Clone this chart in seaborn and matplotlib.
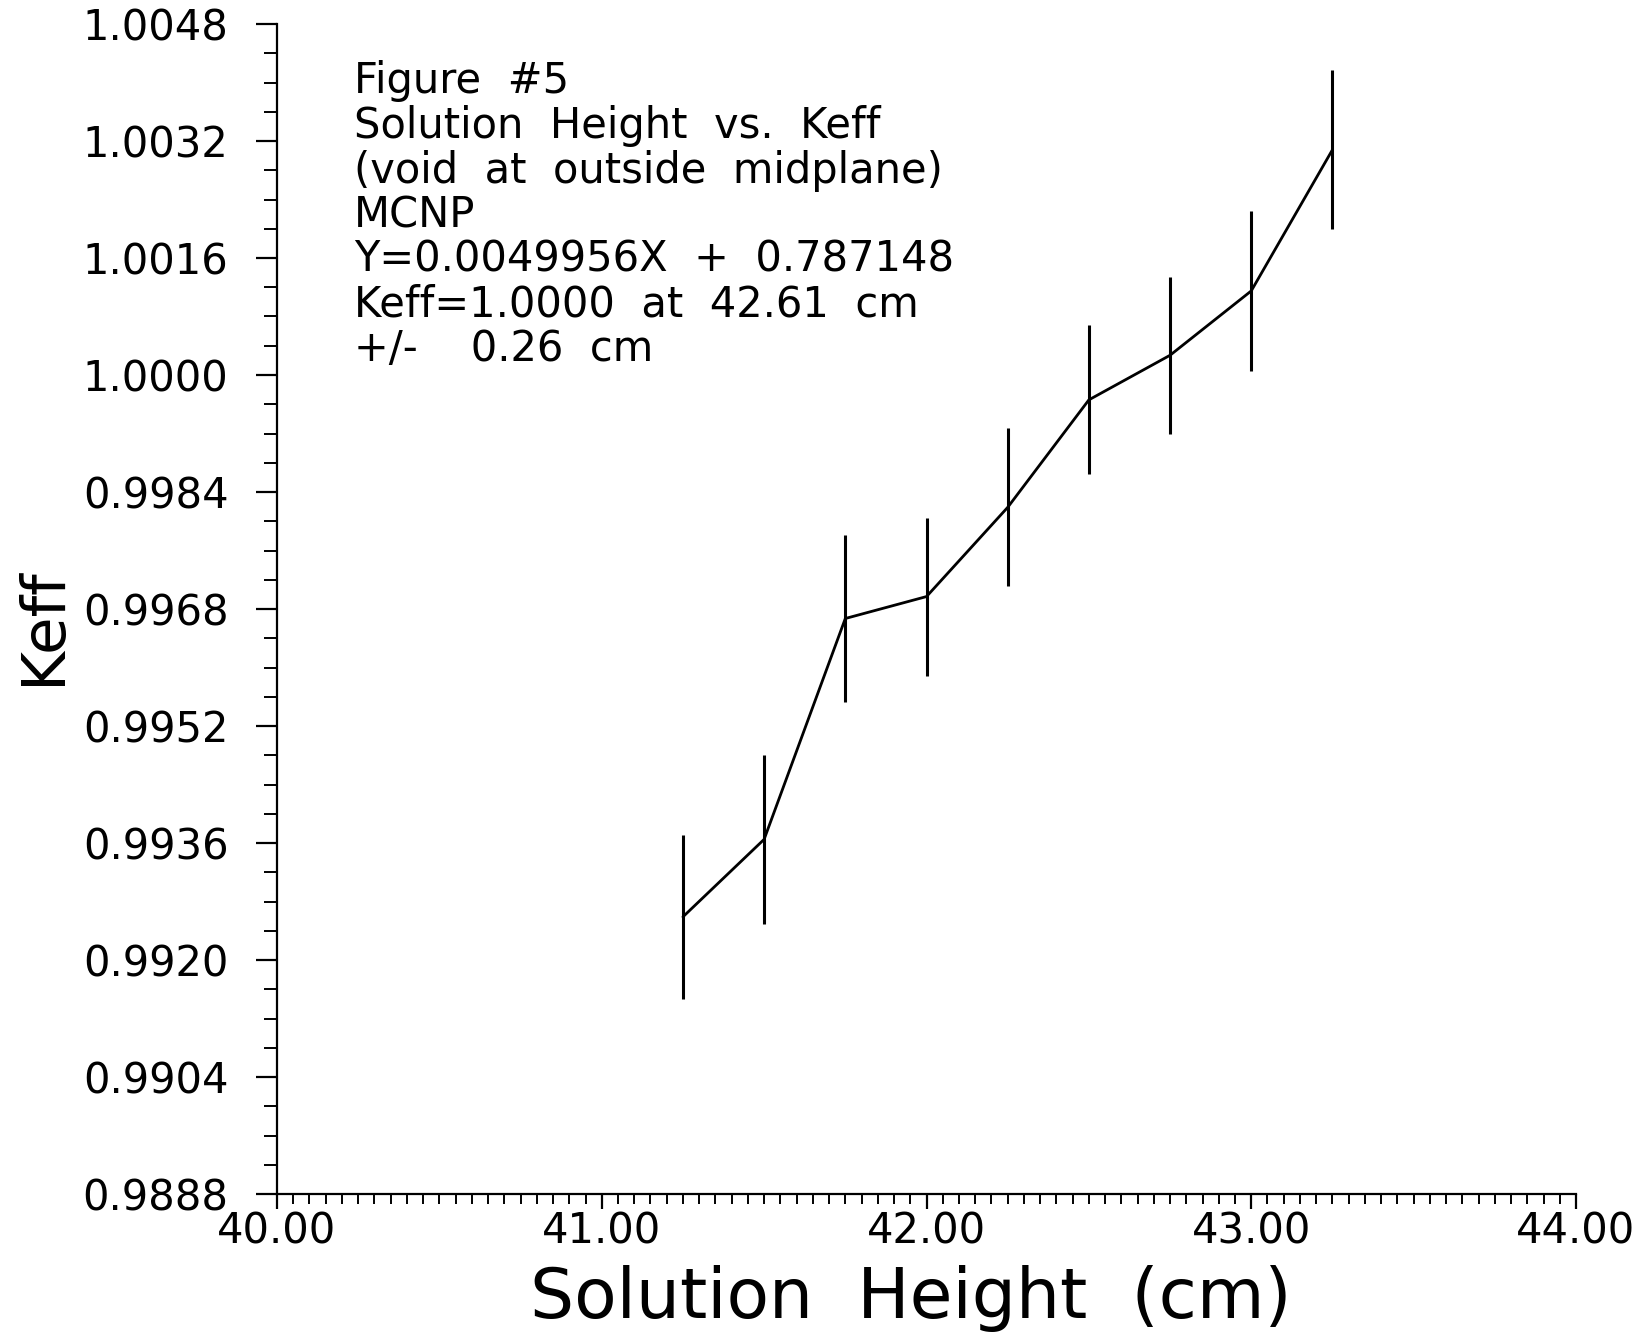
import matplotlib
matplotlib.use("Agg")
import matplotlib.pyplot as plt
import seaborn as sns
import pandas as pd
import numpy as np
from matplotlib.ticker import MultipleLocator, FormatStrFormatter

# ---- data ----
height_cm = [41.25, 41.50, 41.75, 42.00, 42.25, 42.50, 42.75, 43.00, 43.25]
keff = [0.99259, 0.99365, 0.99667, 0.99697, 0.99819, 0.99966, 1.00027, 1.00115, 1.00308]
keff_err = [0.00112, 0.00116, 0.00114, 0.00108, 0.00108, 0.00102, 0.00107, 0.00109, 0.00109]

annotation_lines = [
    "Figure  #5",
    "Solution  Height  vs.  Keff",
    "(void  at  outside  midplane)",
    "MCNP",
    "Y=0.0049956X  +  0.787148",
    "Keff=1.0000  at  42.61  cm",
    "+/-    0.26  cm",
]
x_label = "Solution  Height  (cm)"
y_label = "Keff"

df = pd.DataFrame({"h": height_cm, "k": keff, "e": keff_err})

sns.set_style("ticks")
plt.rcParams["font.family"] = ["DejaVu Sans"]

W, H = 1650, 1339
L, R, T, B = 277, 1576, 24, 1194
fig = plt.figure(figsize=(W / 100, H / 100), dpi=100)
ax = fig.add_axes([L / W, 1 - B / H, (R - L) / W, (B - T) / H])

sns.lineplot(data=df, x="h", y="k", ax=ax, color="black", linewidth=2.0,
             estimator=None, sort=False)
ax.vlines(df["h"], df["k"] - df["e"], df["k"] + df["e"], color="black", linewidth=2.2)

ax.set_xlim(40.0, 44.0)
ax.set_ylim(0.9888, 1.0048)
ax.xaxis.set_major_locator(MultipleLocator(1.0))
ax.xaxis.set_minor_locator(MultipleLocator(0.05))
ax.yaxis.set_major_locator(MultipleLocator(0.0016))
ax.yaxis.set_minor_locator(MultipleLocator(0.0004))
ax.xaxis.set_major_formatter(FormatStrFormatter("%.2f"))
ax.yaxis.set_major_formatter(FormatStrFormatter("%.4f"))

for s in ["top", "right"]:
    ax.spines[s].set_visible(False)
for s in ["left", "bottom"]:
    ax.spines[s].set_linewidth(1.6)
    ax.spines[s].set_color("black")

ax.tick_params(axis="both", which="both", direction="out", color="black",
               labelcolor="black", labelsize=30)
ax.tick_params(axis="y", which="major", length=15, width=1.6, pad=20)
ax.tick_params(axis="y", which="minor", length=9.5, width=1.4)
ax.tick_params(axis="x", which="major", length=11, width=1.6, pad=1)
ax.tick_params(axis="x", which="minor", length=7, width=1.4)

ax.set_xlabel(x_label, fontsize=50, color="black")
ax.set_ylabel(y_label, fontsize=44, color="black")
ax.xaxis.set_label_coords(0.488, -0.061)
ax.yaxis.set_label_coords(-0.157, 0.485)

ax.text(0.0594, 0.969, "\n".join(annotation_lines), transform=ax.transAxes,
        ha="left", va="top", fontsize=30, linespacing=1.08, color="black")

fig.savefig("out.png", dpi=100, facecolor="white")
